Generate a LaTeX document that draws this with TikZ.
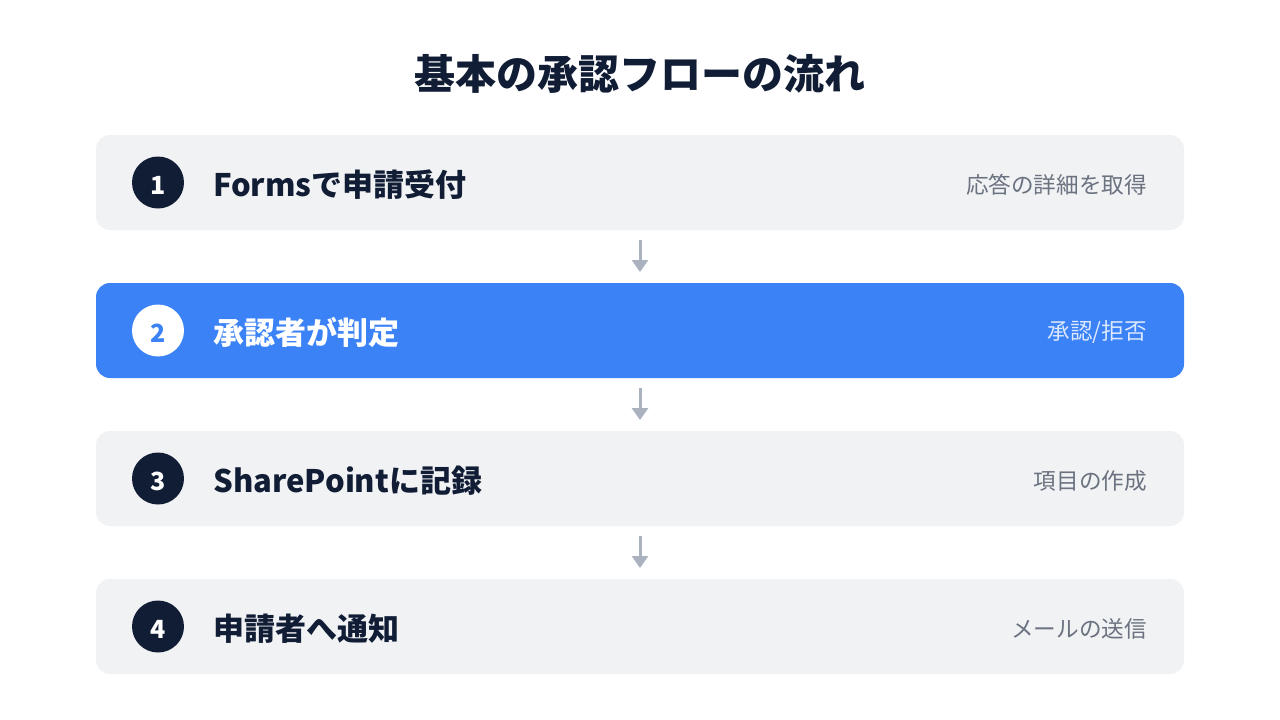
\documentclass[tikz,border=0pt]{standalone}
\usepackage{fontspec}
\setmainfont{Noto Sans CJK JP}
\usepackage{tikz}
\usetikzlibrary{arrows.meta,shapes}
\definecolor{navy}{HTML}{111D35}
\definecolor{paleGrey}{HTML}{F1F2F4}
\definecolor{brightBlue}{HTML}{3B82F6}
\definecolor{noteGrey}{HTML}{6B7280}
\definecolor{noteBlue}{HTML}{DCE8FD}
\definecolor{arrowGrey}{HTML}{AAB2BF}
\tikzstyle{stepBox}=[rectangle, rounded corners=14pt, minimum width=1088pt, minimum height=95pt, inner sep=0pt, outer sep=0pt]
\tikzstyle{greyBox}=[stepBox, fill=paleGrey]
\tikzstyle{blueBox}=[stepBox, fill=brightBlue]
\tikzstyle{numDark}=[circle, fill=navy, minimum size=52pt, inner sep=0pt]
\tikzstyle{numLight}=[numDark, fill=white]
\tikzstyle{numText}=[inner sep=0pt, text=white, font=\fontsize{25pt}{27pt}\selectfont\bfseries]
\tikzstyle{headText}=[anchor=west, inner sep=0pt, text=navy, font=\fontsize{31pt}{35pt}\selectfont\bfseries]
\tikzstyle{noteText}=[anchor=east, inner sep=0pt, text=noteGrey, font=\fontsize{22.6pt}{26pt}\selectfont]
\tikzstyle{flow}=[draw=arrowGrey, line width=3pt, shorten <=10pt, shorten >=11pt, -{Triangle[width=16pt,length=12pt]}]

\begin{document}
\begin{tikzpicture}[x=1pt, y=-1pt]
      \useasboundingbox (0,0) rectangle (1280,720);
      \node(title) [text=navy, font=\fontsize{41pt}{45pt}\selectfont\bfseries] at (640, 74){基本の承認フローの流れ};
      % step boxes
      \node(s1) [greyBox] at (640, 182.5){};
      \node(s2) [blueBox] at (640, 330.5){};
      \node(s3) [greyBox] at (640, 478.5){};
      \node(s4) [greyBox] at (640, 626.5){};
      % number badges
      \node(n1) [numDark] at (158, 182.5){};
      \node(n2) [numLight] at (158, 330.5){};
      \node(n3) [numDark] at (158, 478.5){};
      \node(n4) [numDark] at (158, 626.5){};
      \node(k1) [numText] at (158, 185){1};
      \node(k2) [numText, text=brightBlue] at (158, 333){2};
      \node(k3) [numText] at (158, 481){3};
      \node(k4) [numText] at (158, 629){4};
      % headings
      \node(h1) [headText] at (213, 184.5){Formsで申請受付};
      \node(h2) [headText, text=white] at (213, 332.5){承認者が判定};
      \node(h3) [headText] at (213, 480.5){SharePointに記録};
      \node(h4) [headText] at (213, 628.5){申請者へ通知};
      % notes
      \node(d1) [noteText] at (1147, 184.5){応答の詳細を取得};
      \node(d2) [noteText, text=noteBlue] at (1147, 332.5){承認/拒否};
      \node(d3) [noteText] at (1147, 480.5){項目の作成};
      \node(d4) [noteText] at (1147, 628.5){メールの送信};
      \draw[flow] (s1) to (s2);
      \draw[flow] (s2) to (s3);
      \draw[flow] (s3) to (s4);
    \end{tikzpicture}
\end{document}
